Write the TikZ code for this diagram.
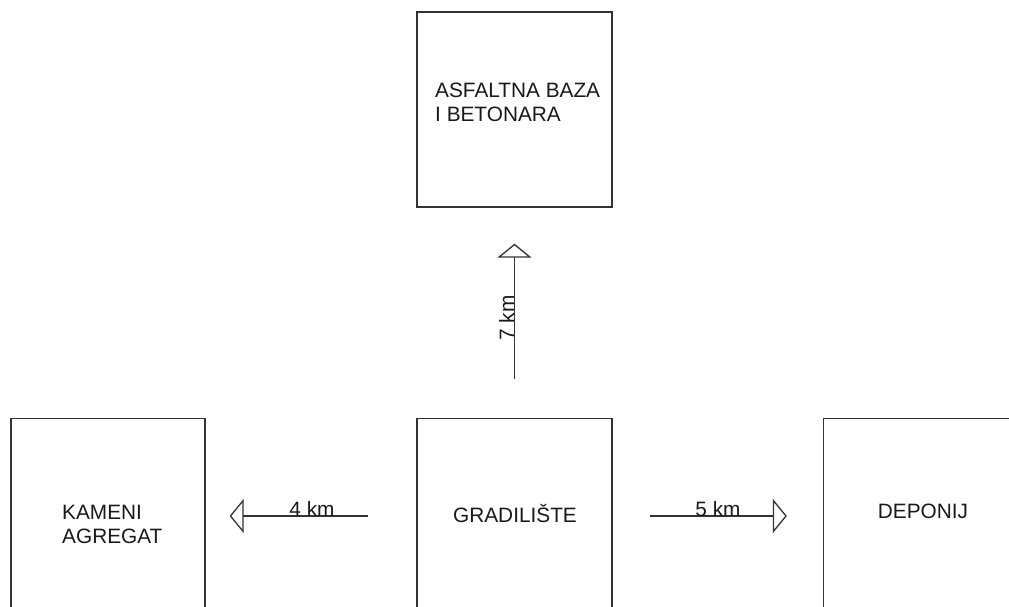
\documentclass[tikz,border=0pt]{standalone}
\usepackage{fontspec}
\setmainfont{Liberation Sans}
\usetikzlibrary{arrows.meta}
\begin{document}
\begin{tikzpicture}[x=1pt,y=-1pt,
  box/.style={draw=black!80,line width=1.3pt,minimum width=195pt,minimum height=195pt,inner sep=0pt},
  txt/.style={font=\fontsize{20.8}{24}\selectfont,inner sep=0pt,align=left,text=black!90},
  lbl/.style={font=\fontsize{20.8}{24}\selectfont,inner sep=0pt,anchor=base,text=black!90},
  conn/.style={draw=black!80,line width=1.3pt,-{Triangle[open,length=14pt,width=34pt,line width=1.3pt]}}]
\useasboundingbox (0,0) rectangle (1009,607);
\clip (0,0) rectangle (1009,607);
\node[box] (asf) at (514.5,109.5) {};
\node[box] (grad) at (514.5,516) {};
\node[box,minimum width=194pt] (kam) at (108,516) {};
\node[box] (dep) at (921,516) {};
\node[txt,anchor=west] (asft) at (435,102) {ASFALTNA BAZA\\I BETONARA};
\node[txt,anchor=west] (kamt) at (62,524) {KAMENI\\AGREGAT};
\node[txt] (gradt) at (515,514) {GRADILIŠTE};
\node[txt] (dept) at (923,511) {DEPONIJ};
\draw[conn,shorten <=39pt,shorten >=36pt] (grad.north) -- (asf.south);
\draw[conn,shorten <=48pt,shorten >=24pt] (grad.west) -- (kam.east);
\draw[conn,shorten <=37pt,shorten >=36pt] (grad.east) -- (dep.west);
\node[lbl,rotate=90] (l7) at (514,318) {7 km};
\node[lbl] (l4) at (312,516) {4 km};
\node[lbl] (l5) at (718,516) {5 km};
\end{tikzpicture}
\end{document}
